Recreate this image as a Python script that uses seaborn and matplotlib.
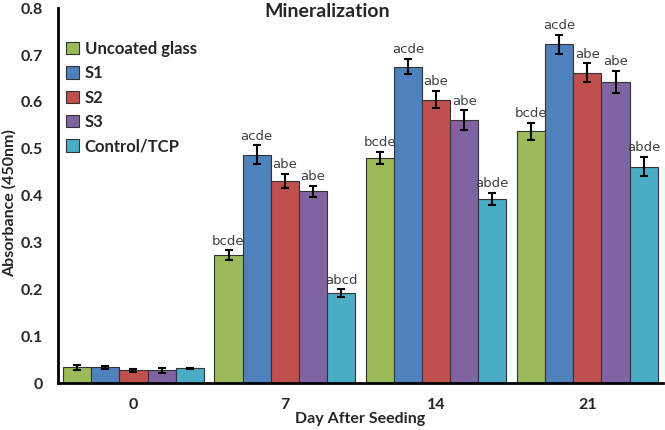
import pandas as pd
import seaborn as sns
import matplotlib.pyplot as plt

days = ["0", "7", "14", "21"]
groups = ["Uncoated glass", "S1", "S2", "S3", "Control/TCP"]
colors = ["#9BBB59", "#4F81BD", "#C0504D", "#8064A2", "#4BACC6"]

# absorbance per group, one value per day
uncoated = [0.034, 0.273, 0.481, 0.537]
s1 = [0.034, 0.487, 0.675, 0.723]
s2 = [0.027, 0.431, 0.605, 0.662]
s3 = [0.027, 0.409, 0.561, 0.642]
control = [0.032, 0.192, 0.393, 0.462]

err_uncoated = [0.005, 0.010, 0.013, 0.019]
err_s1 = [0.003, 0.020, 0.016, 0.020]
err_s2 = [0.004, 0.015, 0.019, 0.020]
err_s3 = [0.005, 0.011, 0.021, 0.024]
err_control = [0.001, 0.008, 0.012, 0.021]

sig_labels = [
    ["", "bcde", "bcde", "bcde"],
    ["", "acde", "acde", "acde"],
    ["", "abe", "abe", "abe"],
    ["", "abe", "abe", "abe"],
    ["", "abcd", "abde", "abde"],
]

values = [uncoated, s1, s2, s3, control]
errors = [err_uncoated, err_s1, err_s2, err_s3, err_control]

rows = []
for g, vals in zip(groups, values):
    for d, v in zip(days, vals):
        rows.append({"Day": d, "Group": g, "Absorbance": v})
df = pd.DataFrame(rows)

sns.set_style("white")
plt.rcParams["font.family"] = ["Lato", "DejaVu Sans"]

fig = plt.figure(figsize=(6.65, 4.3), dpi=100)
ax = fig.add_axes([0.087, 0.109, 0.91, 0.872])

sns.barplot(data=df, x="Day", y="Absorbance", hue="Group", order=days,
            hue_order=groups, palette=colors, width=0.93, saturation=1,
            edgecolor="#333333", linewidth=0.8, errorbar=None, ax=ax)

# bars sorted left to right: day-major, group-minor
bars = sorted([p for p in ax.patches if p.get_height() > 0],
              key=lambda p: p.get_x())
for k, bar in enumerate(bars):
    j, i = divmod(k, len(groups))
    xc = bar.get_x() + bar.get_width() / 2
    h = bar.get_height()
    e = errors[i][j]
    ax.errorbar(xc, h, yerr=e, fmt="none", ecolor="black",
                elinewidth=1.5, capsize=3, capthick=1.5)
    if sig_labels[i][j]:
        ax.text(xc, h + e + 0.006, sig_labels[i][j], ha="center",
                va="bottom", fontsize=9.5, color="#404040",
                family=["DejaVu Sans"])

ax.set_ylim(0, 0.8)
ax.set_yticks([0, 0.1, 0.2, 0.3, 0.4, 0.5, 0.6, 0.7, 0.8])
ax.set_yticklabels(["0", "0.1", "0.2", "0.3", "0.4", "0.5", "0.6", "0.7", "0.8"])
ax.set_xlim(-0.5, 3.5)
ax.tick_params(axis="both", length=0, labelsize=11.5)
ax.tick_params(axis="y", pad=11)
ax.tick_params(axis="x", pad=11)
for lbl in ax.get_xticklabels() + ax.get_yticklabels():
    lbl.set_fontweight("bold")

for s in ["top", "right"]:
    ax.spines[s].set_visible(False)
for s in ["left", "bottom"]:
    ax.spines[s].set_color("black")
    ax.spines[s].set_linewidth(2)

ax.set_xlabel("Day After Seeding", fontsize=11.5, fontweight="bold", labelpad=0)
ax.set_ylabel("Absorbance (450nm)", fontsize=11.5, fontweight="bold")
ax.yaxis.set_label_coords(-0.068, 0.48)
ax.text(0.445, 0.992, "Mineralization", transform=ax.transAxes,
        ha="center", va="center", fontsize=14, fontweight="bold")

ax.legend(loc="upper left", bbox_to_anchor=(0.0, 0.935), frameon=False,
          prop={"weight": "bold", "size": 12}, handlelength=0.75,
          handleheight=0.75, handletextpad=0.35, labelspacing=0.5,
          borderaxespad=0.1)

plt.savefig("out.png", dpi=100)
